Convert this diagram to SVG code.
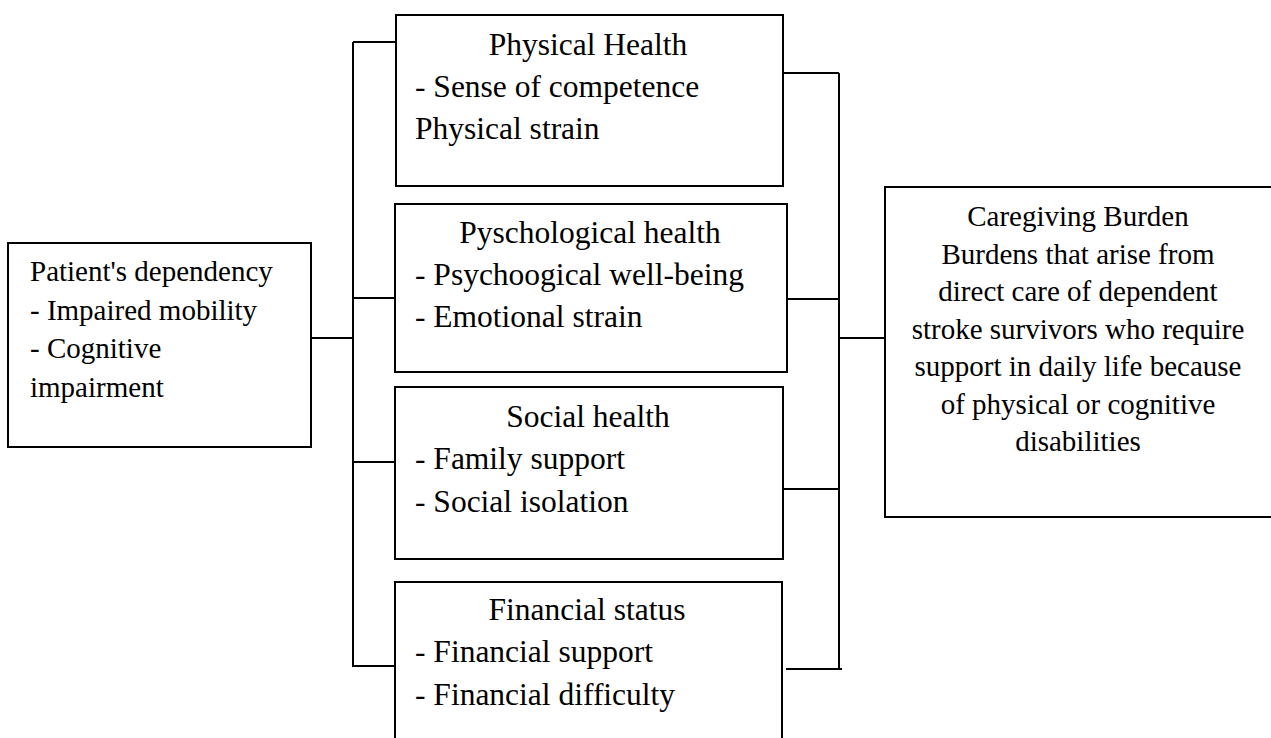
<svg xmlns="http://www.w3.org/2000/svg" width="1271" height="738" viewBox="0 0 1271 738" font-family="Liberation Serif, Times New Roman, Times, serif">
<style>
.box{fill:#fff;stroke:#000;stroke-width:2}
.ln{fill:none;stroke:#000;stroke-width:2}
.m{font-size:31.5px}
.s{font-size:29px}
.c{text-anchor:middle}
</style>
<rect width="1271" height="738" fill="#fff"/>
<g id="connectors">
<path class="ln" d="M353,42 V667 M353,42 H396 M353,298 H395 M353,462 H395 M353,666 H395 M311,338 H353"/>
<path class="ln" d="M839,73 V669 M783,73 H839 M787,299 H839 M783,489 H839 M786,669 H842 M839,338 H885"/>
</g>
<g id="patient" font-family="Liberation Serif, Times New Roman, serif" fill="#000">
<rect class="box" x="8" y="243" width="303" height="204"/>
<text class="s" x="30" y="281">Patient's dependency</text>
<text class="s" x="30" y="319.5">- Impaired mobility</text>
<text class="s" x="30" y="358">- Cognitive</text>
<text class="s" x="30" y="396.5">impairment</text>
</g>
<g id="physical" font-family="Liberation Serif, Times New Roman, serif" fill="#000">
<rect class="box" x="396" y="15" width="387" height="171"/>
<text class="m c" x="588" y="55">Physical Health</text>
<text class="m" x="415" y="97">- Sense of competence</text>
<text class="m" x="415" y="139">Physical strain</text>
</g>
<g id="psychological" font-family="Liberation Serif, Times New Roman, serif" fill="#000">
<rect class="box" x="395" y="204" width="392" height="168"/>
<text class="m c" x="590" y="243">Pyschological health</text>
<text class="m" x="415" y="285">- Psychoogical well-being</text>
<text class="m" x="415" y="327">- Emotional strain</text>
</g>
<g id="social" font-family="Liberation Serif, Times New Roman, serif" fill="#000">
<rect class="box" x="395" y="387" width="388" height="172"/>
<text class="m c" x="588" y="427">Social health</text>
<text class="m" x="415" y="469">- Family support</text>
<text class="m" x="415" y="512">- Social isolation</text>
</g>
<g id="financial" font-family="Liberation Serif, Times New Roman, serif" fill="#000">
<rect class="box" x="395" y="582" width="387" height="170"/>
<text class="m c" x="587" y="620">Financial status</text>
<text class="m" x="415" y="662">- Financial support</text>
<text class="m" x="415" y="705">- Financial difficulty</text>
</g>
<g id="caregiving" font-family="Liberation Serif, Times New Roman, serif" fill="#000">
<rect class="box" x="885" y="187" width="400" height="330"/>
<text class="s c" x="1078" y="226">Caregiving Burden</text>
<text class="s c" x="1078" y="263.5">Burdens that arise from</text>
<text class="s c" x="1078" y="301">direct care of dependent</text>
<text class="s c" x="1078" y="338.5">stroke survivors who require</text>
<text class="s c" x="1078" y="376">support in daily life because</text>
<text class="s c" x="1078" y="413.5">of physical or cognitive</text>
<text class="s c" x="1078" y="451">disabilities</text>
</g>
</svg>
